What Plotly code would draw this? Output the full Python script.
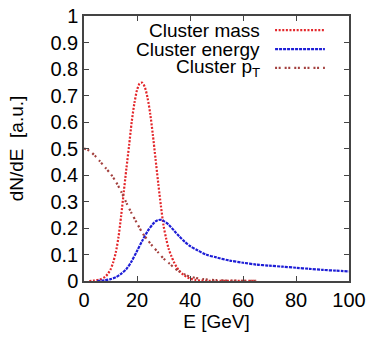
import plotly.graph_objects as go

# ---- data ----
mass_x = [2, 4, 6, 8, 9, 10, 11, 12, 13, 14, 15, 16, 17, 18, 19, 20, 21, 22, 23, 24, 25, 26, 27, 28,
          29, 30, 31, 32, 33, 34, 35, 36, 37, 38, 39, 40, 42, 44, 46, 50, 55, 60, 65]
mass_y = [0.0, 0.002, 0.006, 0.016, 0.027, 0.043, 0.07, 0.108, 0.165, 0.245, 0.335, 0.425, 0.51, 0.6,
          0.67, 0.72, 0.745, 0.748, 0.73, 0.69, 0.63, 0.55, 0.46, 0.37, 0.285, 0.21, 0.16, 0.12, 0.093,
          0.07, 0.052, 0.038, 0.028, 0.02, 0.014, 0.009, 0.004, 0.0015, 0.001, 0.0008, 0.0005, 0.0003, 0.0002]

energy_x = [5, 8, 10, 12, 14, 16, 18, 20, 22, 24, 26, 27, 28, 29, 30, 32, 34, 36, 38, 40, 43, 46, 50,
            55, 60, 65, 70, 75, 80, 85, 90, 95, 100]
energy_y = [0.0, 0.003, 0.007, 0.014, 0.027, 0.045, 0.075, 0.113, 0.152, 0.188, 0.215, 0.225, 0.23,
            0.231, 0.227, 0.212, 0.19, 0.168, 0.148, 0.132, 0.115, 0.1, 0.089, 0.077, 0.069, 0.062,
            0.058, 0.054, 0.05, 0.046, 0.042, 0.039, 0.036]

pt_x = [0, 2, 4, 6, 8, 10, 12, 14, 16, 18, 20, 22, 24, 26, 28, 30, 32, 34, 36, 38, 40, 42, 45, 50,
        55, 60, 65]
pt_y = [0.5, 0.492, 0.474, 0.452, 0.428, 0.405, 0.375, 0.338, 0.295, 0.255, 0.218, 0.182, 0.155,
        0.13, 0.108, 0.085, 0.068, 0.05, 0.036, 0.025, 0.017, 0.012, 0.007, 0.003, 0.0015, 0.0008,
        0.0005]

series_names = ["Cluster mass", "Cluster energy", "Cluster p<sub>T</sub>"]
x_ticks = [0, 20, 40, 60, 80, 100]
y_ticks = [0, 0.1, 0.2, 0.3, 0.4, 0.5, 0.6, 0.7, 0.8, 0.9, 1]

# ---- styles ----
colors = ["#e3262a", "#1e1ed6", "#a3403e"]
dashes = ["2px,1.6px", "3px,1px", "2px,1.6px,2px,4px"]
FONT = "Liberation Sans, Arial, sans-serif"

fig = go.Figure()
for xs, ys, c, d, n in zip([mass_x, energy_x, pt_x], [mass_y, energy_y, pt_y], colors, dashes, series_names):
    fig.add_trace(go.Scatter(x=xs, y=ys, mode="lines", name=n,
                             line=dict(color=c, width=2.2, dash=d, shape="spline", smoothing=0.8),
                             showlegend=False))

# legend drawn as right-aligned text with samples on the right
leg_y = [0.947, 0.875, 0.804]
for n, c, d, yy in zip(series_names, colors, dashes, leg_y):
    fig.add_annotation(x=0.672, y=yy, xref="paper", yref="paper", text=n, showarrow=False,
                       xanchor="right", yanchor="middle", font=dict(size=19, color="#000", family=FONT))
    fig.add_shape(type="line", xref="paper", yref="paper", x0=0.721, x1=0.909, y0=yy, y1=yy,
                  line=dict(color=c, width=2.2, dash=d))

axis_common = dict(showline=True, linecolor="#444", linewidth=1.5, mirror="ticks", ticks="inside",
                   ticklen=5, tickwidth=1.2, tickcolor="#444", showgrid=False, zeroline=False,
                   automargin=False, tickfont=dict(size=20, color="#000", family=FONT))
fig.update_xaxes(range=[0, 100], tickvals=x_ticks, ticktext=[str(v) for v in x_ticks],
                 title=dict(text="E [GeV]", font=dict(size=19, color="#000", family=FONT), standoff=2),
                 **axis_common)
fig.update_yaxes(range=[0, 1], tickvals=y_ticks, ticktext=[f"{v:g}" for v in y_ticks],
                 title=dict(text="dN/dE  [a.u.]", font=dict(size=19, color="#000", family=FONT), standoff=22),
                 **axis_common)

fig.update_layout(width=370, height=339, margin=dict(l=84, r=21, t=16, b=58),
                  plot_bgcolor="white", paper_bgcolor="white", font=dict(family=FONT))
fig.write_html("out.html", config={"displayModeBar": False},
               post_script="document.body.style.margin='0';document.body.style.overflow='hidden';")
